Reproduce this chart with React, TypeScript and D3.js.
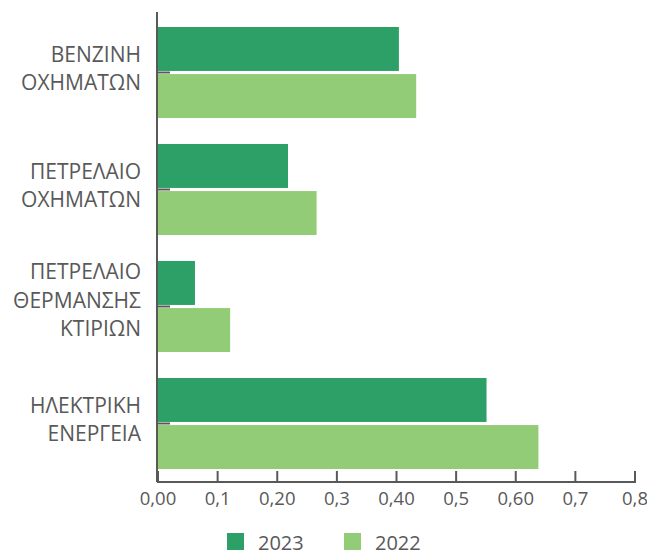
import { useEffect, useRef } from 'react'
import * as d3 from 'd3'

const categories = [
  ['ΒΕΝΖΙΝΗ', 'ΟΧΗΜΑΤΩΝ'],
  ['ΠΕΤΡΕΛΑΙΟ', 'ΟΧΗΜΑΤΩΝ'],
  ['ΠΕΤΡΕΛΑΙΟ', 'ΘΕΡΜΑΝΣΗΣ', 'ΚΤΙΡΙΩΝ'],
  ['ΗΛΕΚΤΡΙΚΗ', 'ΕΝΕΡΓΕΙΑ'],
]
const seriesNames = ['2023', '2022']
const values2023 = [0.404, 0.218, 0.062, 0.551]
const values2022 = [0.433, 0.266, 0.121, 0.638]
const tickValues = [0, 0.1, 0.2, 0.3, 0.4, 0.5, 0.6, 0.7, 0.8]
const tickLabels = ['0,00', '0,1', '0,20', '0,3', '0,40', '0,5', '0,60', '0,7', '0,8']

const colors = ['#2ca066', '#93cc77']
const axisColor = '#595959'
const font = '"Open Sans", "Noto Sans", sans-serif'

export default function App() {
  const svgRef = useRef<SVGSVGElement>(null)

  useEffect(() => {
    if (!svgRef.current) return
    const svg = d3.select(svgRef.current)
    svg.selectAll('*').remove()

    const keys = categories.map((c) => c.join(' '))
    const series = [values2023, values2022]

    const x = d3.scaleLinear().domain([0, 0.8]).range([158, 635])
    const y = d3
      .scaleBand()
      .domain(keys)
      .range([14, 482])
      .paddingInner(0.222)
      .paddingOuter(0.111)
    const ySub = d3
      .scaleBand()
      .domain(seriesNames)
      .range([0, y.bandwidth()])
      .paddingInner(0.066)

    // bars
    seriesNames.forEach((s, si) => {
      svg
        .append('g')
        .selectAll('rect')
        .data(series[si])
        .enter()
        .append('rect')
        .attr('x', x(0))
        .attr('y', (_, i) => (y(keys[i]) || 0) + (ySub(s) || 0))
        .attr('width', (d) => x(d) - x(0))
        .attr('height', ySub.bandwidth())
        .attr('fill', colors[si])
    })

    // vertical axis
    svg
      .append('line')
      .attr('x1', 157)
      .attr('x2', 157)
      .attr('y1', 12)
      .attr('y2', 482)
      .attr('stroke', axisColor)
      .attr('stroke-width', 2)
    svg
      .append('g')
      .selectAll('line')
      .data(keys)
      .enter()
      .append('line')
      .attr('x1', 157)
      .attr('x2', 170)
      .attr('y1', (d) => (y(d) || 0) + y.bandwidth() / 2)
      .attr('y2', (d) => (y(d) || 0) + y.bandwidth() / 2)
      .attr('stroke', axisColor)
      .attr('stroke-width', 2)

    // category labels
    const labels = svg
      .append('g')
      .selectAll('text')
      .data(categories)
      .enter()
      .append('text')
      .attr('text-anchor', 'end')
      .attr('font-family', font)
      .attr('font-size', '21px')
      .attr('fill', axisColor)
    const lineH = 28.5
    labels.each(function (lines, i) {
      const cy = (y(keys[i]) || 0) + y.bandwidth() / 2 - (lines.length > 2 ? 6 : 4)
      const top = cy - ((lines.length - 1) * lineH) / 2
      d3.select(this)
        .selectAll('tspan')
        .data(lines)
        .enter()
        .append('tspan')
        .attr('x', 141)
        .attr('y', (_, j) => top + j * lineH)
        .attr('dy', '0.35em')
        .text((t) => t)
    })

    // horizontal axis
    const xAxis = svg.append('g').attr('transform', 'translate(0,482)')
    xAxis
      .append('line')
      .attr('x1', 157)
      .attr('x2', 636)
      .attr('stroke', axisColor)
      .attr('stroke-width', 2)
    xAxis
      .selectAll('.tick')
      .data(tickValues)
      .enter()
      .append('line')
      .attr('x1', (d) => x(d))
      .attr('x2', (d) => x(d))
      .attr('y1', 1)
      .attr('y2', -11)
      .attr('stroke', axisColor)
      .attr('stroke-width', 2)
    xAxis
      .selectAll('text')
      .data(tickValues)
      .enter()
      .append('text')
      .attr('x', (d) => x(d))
      .attr('y', 23)
      .attr('text-anchor', 'middle')
      .attr('font-family', font)
      .attr('font-size', '18.5px')
      .attr('fill', axisColor)
      .text((_, i) => tickLabels[i])

    // legend
    const legendX = [227, 344]
    const legend = svg
      .append('g')
      .selectAll('g')
      .data(seriesNames)
      .enter()
      .append('g')
      .attr('transform', (_, i) => `translate(${legendX[i]},533)`)
    legend
      .append('rect')
      .attr('width', 17)
      .attr('height', 17)
      .attr('fill', (_, i) => colors[i])
    legend
      .append('text')
      .attr('x', 31)
      .attr('y', 16.5)
      .attr('font-family', font)
      .attr('font-size', '20px')
      .attr('fill', axisColor)
      .text((d) => d)
  }, [])

  return (
    <div style={{ position: 'absolute', left: 0, top: 0 }}>
      <svg ref={svgRef} width={647} height={552} style={{ display: 'block', background: '#fff' }} />
    </div>
  )
}
